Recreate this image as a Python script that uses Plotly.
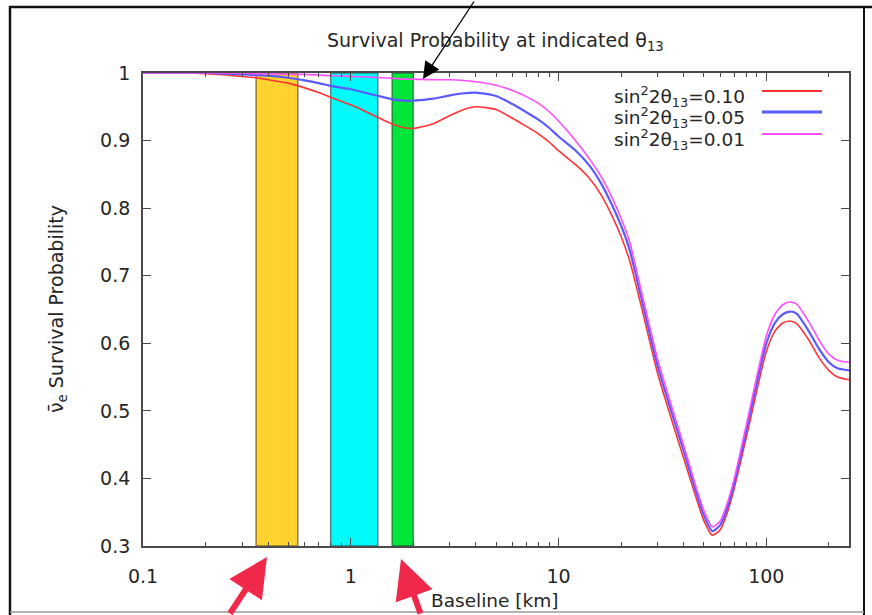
import plotly.graph_objects as go
import math

# ---------------- data ----------------
baseline_km = [0.1, 0.15, 0.2, 0.25, 0.3, 0.35, 0.4, 0.5, 0.6, 0.7, 0.8, 1.0, 1.2, 1.4, 1.6, 1.8, 2.0,
               2.5, 3, 3.5, 4, 5, 6, 7, 8, 9, 10, 12, 14, 16, 18, 20, 22, 25, 30, 35, 40, 45, 50, 55, 60,
               65, 70, 80, 90, 100, 110, 120, 130, 140, 160, 180, 200, 220, 250]

p_010 = [1.000, 1.000, 0.999, 0.997, 0.995, 0.993, 0.990, 0.985, 0.978, 0.971, 0.964, 0.953, 0.942,
         0.932, 0.924, 0.919, 0.918, 0.925, 0.937, 0.946, 0.950, 0.946, 0.933, 0.921, 0.910, 0.898,
         0.885, 0.865, 0.845, 0.820, 0.790, 0.758, 0.722, 0.655, 0.555, 0.487, 0.430, 0.380, 0.338, 0.316,
         0.324, 0.350, 0.385, 0.460, 0.530, 0.588, 0.618, 0.630, 0.633, 0.629, 0.605, 0.578, 0.560, 0.550, 0.546]

p_005 = [1.000, 1.000, 1.000, 0.999, 0.998, 0.997, 0.996, 0.993, 0.989, 0.985, 0.981, 0.976, 0.970,
         0.965, 0.961, 0.959, 0.959, 0.962, 0.967, 0.970, 0.971, 0.966, 0.954, 0.942, 0.931, 0.919,
         0.906, 0.886, 0.864, 0.837, 0.806, 0.774, 0.738, 0.668, 0.566, 0.498, 0.441, 0.389, 0.346, 0.322,
         0.331, 0.357, 0.392, 0.470, 0.542, 0.600, 0.630, 0.643, 0.647, 0.644, 0.618, 0.591, 0.572, 0.563, 0.560]

p_001 = [1.000, 1.000, 1.000, 1.000, 1.000, 0.999, 0.999, 0.998, 0.998, 0.997, 0.996, 0.995, 0.994,
         0.993, 0.992, 0.991, 0.991, 0.990, 0.990, 0.989, 0.987, 0.982, 0.974, 0.965, 0.955, 0.943,
         0.929, 0.901, 0.874, 0.847, 0.817, 0.785, 0.750, 0.678, 0.576, 0.507, 0.449, 0.396, 0.353, 0.328,
         0.337, 0.364, 0.399, 0.478, 0.551, 0.611, 0.643, 0.657, 0.661, 0.658, 0.632, 0.604, 0.584, 0.575, 0.572]

series_names = ["sin<sup>2</sup>2θ<sub>13</sub>=0.10",
                "sin<sup>2</sup>2θ<sub>13</sub>=0.05",
                "sin<sup>2</sup>2θ<sub>13</sub>=0.01"]
series_values = [p_010, p_005, p_001]
series_colors = ["#ff3333", "#5a5aff", "#ff4dff"]
series_widths = [1.6, 2.2, 1.6]

band_lo = [0.35, 0.80, 1.58]
band_hi = [0.556, 1.35, 2.0]
band_colors = ["#ffd22e", "#00fbfb", "#00e638"]

y_ticks = [0.3, 0.4, 0.5, 0.6, 0.7, 0.8, 0.9, 1.0]
y_tick_labels = ["0.3", "0.4", "0.5", "0.6", "0.7", "0.8", "0.9", "1"]
x_ticks = [0.1, 1, 10, 100]
x_tick_labels = ["0.1", "1", "10", "100"]

# ---------------- layout geometry ----------------
W, H = 872, 615
L, R, T, B = 143, 23, 73, 69
PW, PH = W - L - R, H - T - B


def px(x):
    return (x - L) / PW


def py(y):
    return (H - B - y) / PH


FONT = "DejaVu Sans"
TXT = "#262626"
AX = "#4a4a4a"

fig = go.Figure()

# bands
for lo, hi, c in zip(band_lo, band_hi, band_colors):
    fig.add_trace(go.Scatter(x=[lo, lo, hi, hi, lo], y=[0.3, 1.0, 1.0, 0.3, 0.3],
                             mode="lines", fill="toself", fillcolor=c,
                             line=dict(color="rgba(40,40,40,0.55)", width=1.5),
                             hoverinfo="skip", showlegend=False))

# curves
for name, vals, c, w in zip(series_names, series_values, series_colors, series_widths):
    fig.add_trace(go.Scatter(x=baseline_km, y=vals, mode="lines", name=name,
                             line=dict(color=c, width=w, shape="spline", smoothing=0.6),
                             showlegend=False))

fig.update_xaxes(type="log", range=[math.log10(0.1), math.log10(250)],
                 tickvals=x_ticks, ticktext=x_tick_labels,
                 ticks="inside", ticklen=8, tickwidth=1.2, tickcolor=AX,
                 showline=True, linecolor=AX, linewidth=1.8, mirror="allticks",
                 showgrid=False, zeroline=False, ticklabelstandoff=12,
                 minor=dict(ticks="inside", ticklen=4, tickwidth=1.2, tickcolor=AX,
                            dtick="D1", showgrid=False),
                 tickfont=dict(family=FONT, size=19, color=TXT))
fig.update_yaxes(range=[0.3, 1.0], tickvals=y_ticks, ticktext=y_tick_labels,
                 ticks="inside", ticklen=8, tickwidth=1.2, tickcolor=AX,
                 showline=True, linecolor=AX, linewidth=1.8, mirror="allticks",
                 showgrid=False, zeroline=False, ticklabelstandoff=7,
                 tickfont=dict(family=FONT, size=19, color=TXT))

ann = []
ann.append(dict(text="Survival Probability at indicated θ<sub>13</sub>", x=px(495), y=py(42),
                xref="paper", yref="paper", showarrow=False, xanchor="center", yanchor="middle",
                font=dict(family=FONT, size=19, color=TXT)))
ann.append(dict(text="Baseline [km]", x=px(495), y=py(600), xref="paper", yref="paper",
                showarrow=False, xanchor="center", yanchor="middle",
                font=dict(family=FONT, size=18.5, color=TXT)))
ann.append(dict(text="ν\u0304<sub>e</sub> Survival Probability", x=px(57), y=py(309),
                xref="paper", yref="paper", showarrow=False, textangle=-90,
                xanchor="center", yanchor="middle",
                font=dict(family=FONT, size=19, color=TXT)))

# legend (text on the left, sample line on the right)
leg_rows = [93, 114, 136]
shapes = []
for name, c, w, yy in zip(series_names, series_colors, series_widths, leg_rows):
    ann.append(dict(text=name, x=px(747), y=py(yy + 3), xref="paper", yref="paper",
                    showarrow=False, xanchor="right", yanchor="middle",
                    font=dict(family=FONT, size=18.5, color=TXT)))
    shapes.append(dict(type="line", xref="paper", yref="paper", x0=px(762), x1=px(822),
                       y0=py(yy - 2), y1=py(yy - 2), line=dict(color=c, width=w + 0.6)))

# black arrow from top
ann.append(dict(text="", x=px(423), y=py(79), xref="paper", yref="paper", showarrow=True,
                ax=52, ay=-84, arrowhead=2, arrowsize=2.6, arrowwidth=1.3, arrowcolor="#000000"))
# red arrows at bottom
RED_ARROW = "#f0284a"
ann.append(dict(text="", x=px(267), y=py(557), xref="paper", yref="paper", showarrow=True,
                ax=-38, ay=66, arrowhead=2, arrowsize=1.3, arrowwidth=6, arrowcolor=RED_ARROW))
ann.append(dict(text="", x=px(401), y=py(559), xref="paper", yref="paper", showarrow=True,
                ax=20, ay=62, arrowhead=2, arrowsize=1.3, arrowwidth=6, arrowcolor=RED_ARROW))

# outer frame of the picture
shapes.append(dict(type="line", xref="paper", yref="paper", x0=px(10), x1=px(10),
                   y0=py(6), y1=py(615), line=dict(color="#111111", width=2.5)))
shapes.append(dict(type="line", xref="paper", yref="paper", x0=px(9), x1=px(872),
                   y0=py(7), y1=py(7), line=dict(color="#111111", width=2.5)))
shapes.append(dict(type="line", xref="paper", yref="paper", x0=px(864), x1=px(864),
                   y0=py(6), y1=py(615), line=dict(color="#111111", width=2)))
shapes.append(dict(type="line", xref="paper", yref="paper", x0=px(10), x1=px(864),
                   y0=py(612), y1=py(612), line=dict(color="#999999", width=1.5)))

fig.update_layout(width=W, height=H, autosize=False,
                  margin=dict(l=L, r=R, t=T, b=B),
                  paper_bgcolor="white", plot_bgcolor="white",
                  annotations=ann, shapes=shapes, showlegend=False,
                  font=dict(family=FONT, color=TXT))

fig.write_html("out.html")
